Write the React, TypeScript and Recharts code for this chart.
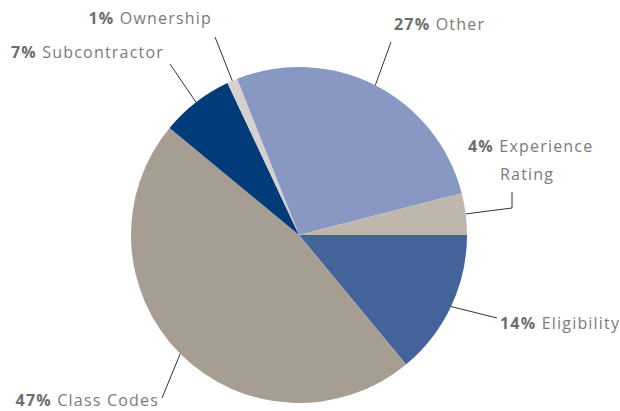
import React from "react";
import { PieChart, Pie, Cell } from "recharts";

const categories = ["Eligibility", "Class Codes", "Subcontractor", "Ownership", "Other", "Experience Rating"];
const shares = [14, 47, 7, 1, 27, 4];
const sliceColors = ["#45639B", "#A69D93", "#023B7A", "#D6D1CC", "#8898C2", "#BFB7AE"];

// label layout relative to pie centre: leader bend points, then text anchor
const labelLayout: Record<string, { pts: number[][]; tx: number; ty: number; anchor: "start" | "end"; lines?: string[] }> = {
  Eligibility: { pts: [[198, 83]], tx: 201, ty: 94, anchor: "start" },
  "Class Codes": { pts: [[-137, 163]], tx: -140, ty: 171, anchor: "end" },
  Subcontractor: { pts: [[-129, -171]], tx: -135, ty: -177, anchor: "end" },
  Ownership: { pts: [[-84, -198]], tx: -87, ty: -211, anchor: "end" },
  Other: { pts: [[92, -193]], tx: 95, ty: -205, anchor: "start" },
  "Experience Rating": {
    pts: [[213, -27], [213, -43]],
    tx: 169,
    ty: -83,
    anchor: "start",
    lines: ["Experience", "Rating"],
  },
};

const data = categories.map((name, i) => ({ name, value: shares[i] }));

const RADIAN = Math.PI / 180;

const renderLabel = (props: any) => {
  const { cx, cy, midAngle, outerRadius, name, value } = props;
  const cfg = labelLayout[name];
  if (!cfg) return null;
  const sx = cx + outerRadius * Math.cos(-midAngle * RADIAN);
  const sy = cy + outerRadius * Math.sin(-midAngle * RADIAN);
  const path = [[sx, sy], ...cfg.pts.map(([dx, dy]) => [cx + dx, cy + dy])]
    .map(([x, y], i) => `${i === 0 ? "M" : "L"}${x},${y}`)
    .join(" ");
  const lines = cfg.lines ?? [name];
  return (
    <g>
      <path d={path} stroke="#333" strokeWidth={1} fill="none" />
      <text
        x={cx + cfg.tx}
        y={cy + cfg.ty}
        textAnchor={cfg.anchor}
        fontFamily="'Open Sans', sans-serif"
        fontSize={16}
        letterSpacing={1.2}
        fill="#7b7b7b"
      >
        <tspan fontWeight={700} fill="#6e6e6e">{value}%</tspan>
        <tspan> {lines[0]}</tspan>
        {lines.slice(1).map((l) => (
          <tspan key={l} x={cx + cfg.tx + 32} dy={28}>{l}</tspan>
        ))}
      </text>
    </g>
  );
};

export default function App() {
  return (
    <div style={{ position: "absolute", left: 0, top: 0, width: 620, height: 411, background: "#fff" }}>
      <PieChart width={620} height={411} margin={{ top: 0, right: 0, bottom: 0, left: 0 }}>
        <Pie
          data={data}
          dataKey="value"
          nameKey="name"
          cx={299}
          cy={235}
          outerRadius={168}
          startAngle={0}
          endAngle={-360}
          stroke="none"
          label={renderLabel}
          labelLine={false}
          isAnimationActive={false}
        >
          {data.map((d, i) => (
            <Cell key={d.name} fill={sliceColors[i]} />
          ))}
        </Pie>
      </PieChart>
    </div>
  );
}
